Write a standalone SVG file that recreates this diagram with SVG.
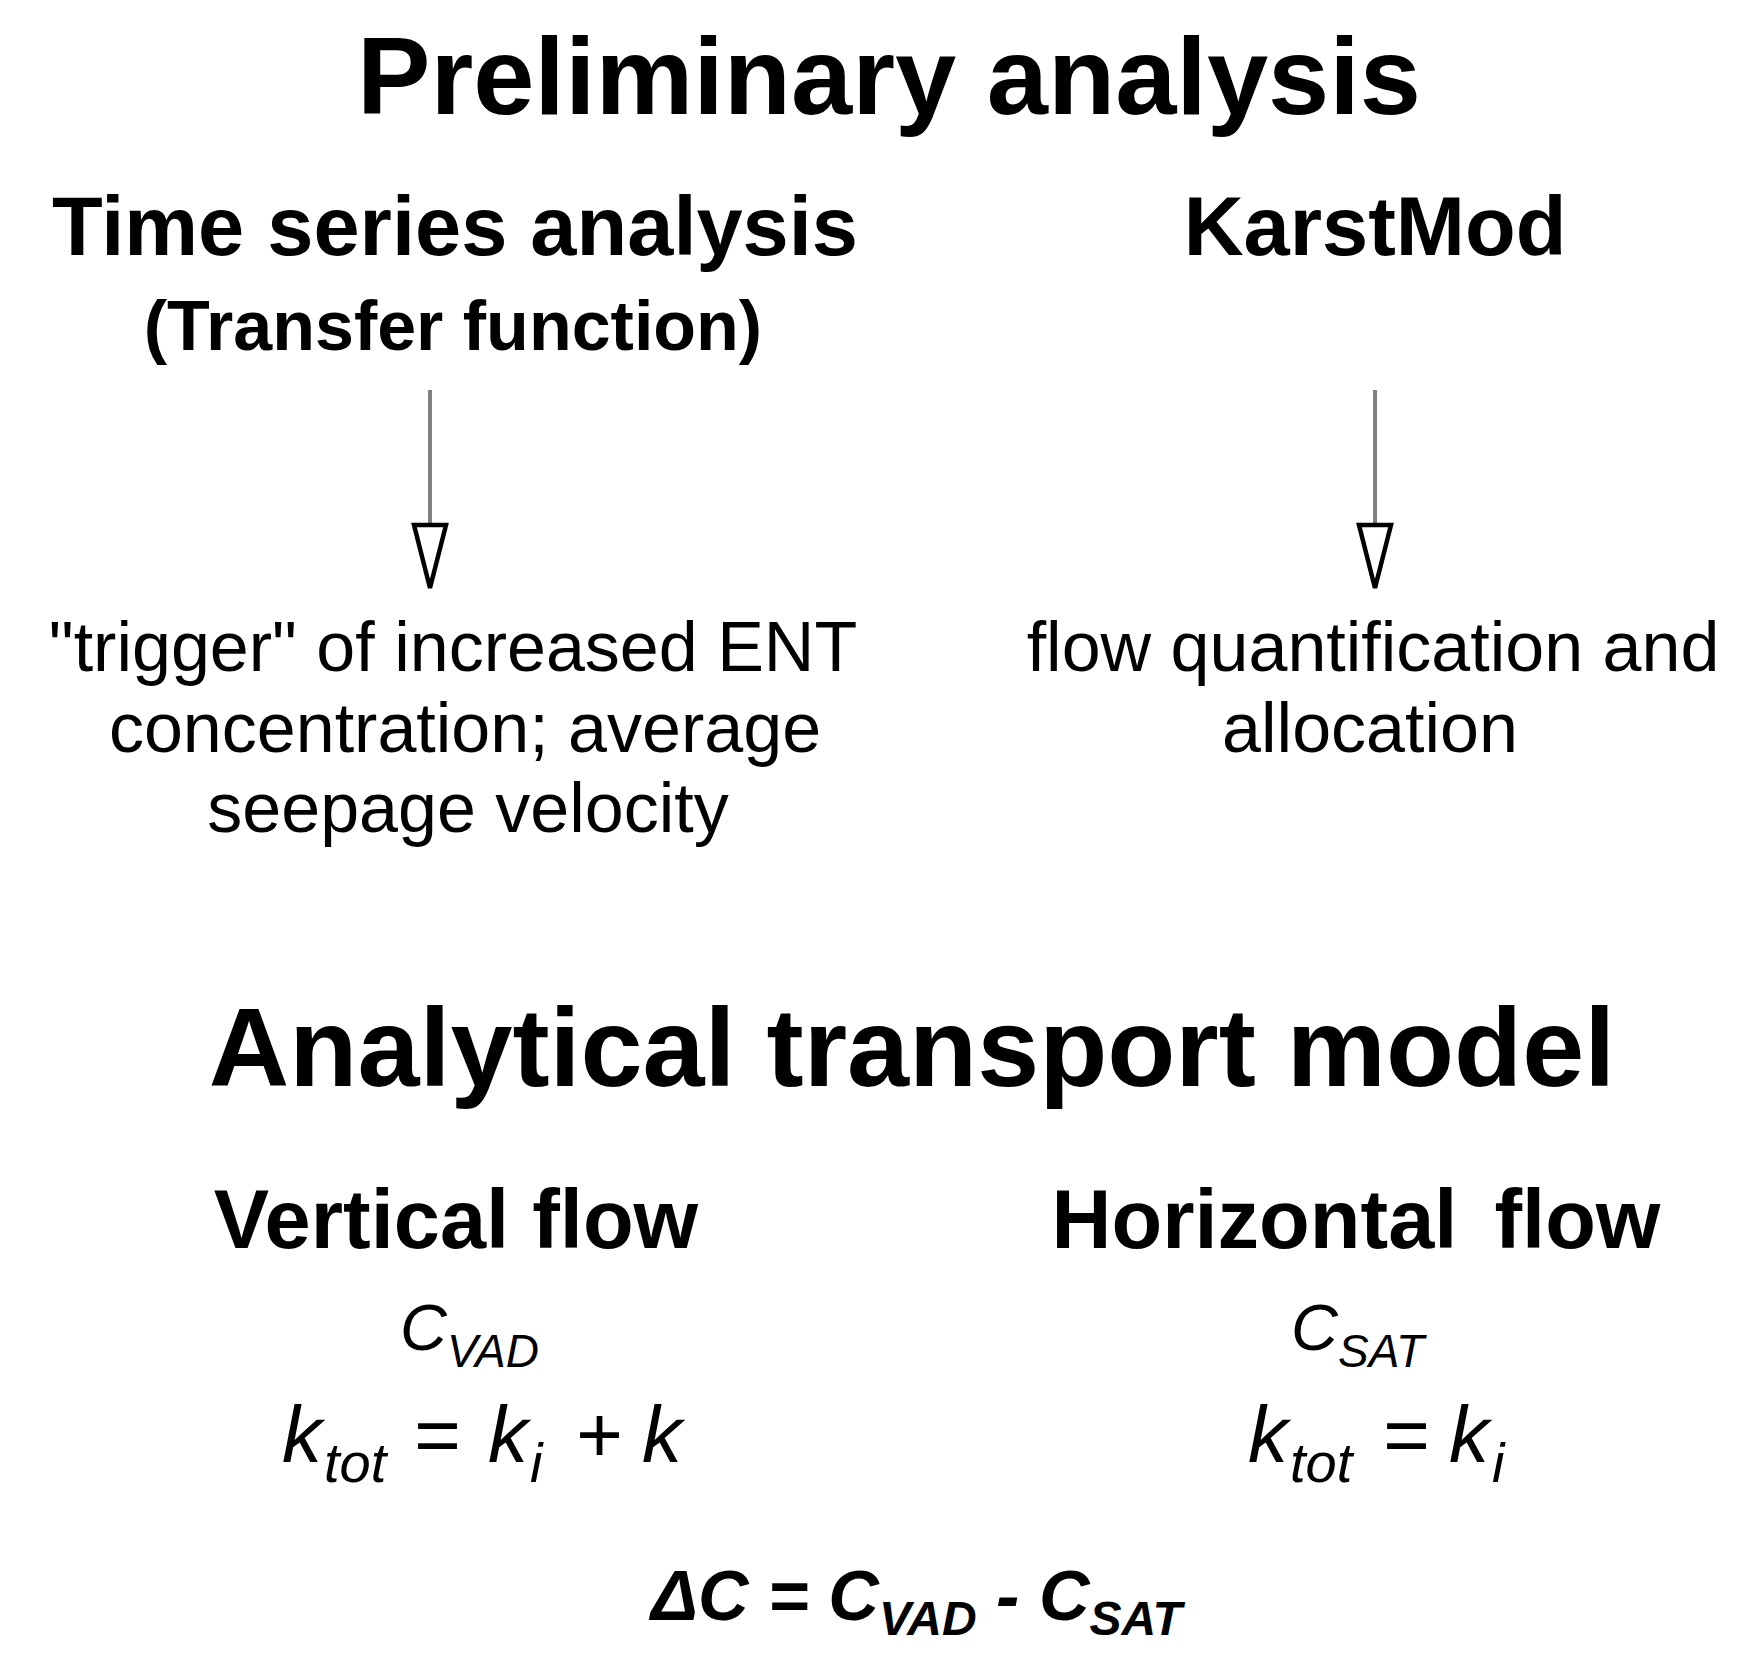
<svg xmlns="http://www.w3.org/2000/svg" width="1750" height="1666" viewBox="0 0 1750 1666">
<style>
text{font-family:"Liberation Sans",Arial,sans-serif;fill:#000}
.h1{font-weight:bold;font-size:110px;text-anchor:middle}
.h1b{font-weight:bold;font-size:111.5px;text-anchor:middle}
.h2{font-weight:bold;font-size:83px;text-anchor:middle}
.h3{font-weight:bold;font-size:70px;text-anchor:middle}
.body{font-size:70px;text-anchor:middle}
.m{font-style:italic;font-size:80px}
.ms{font-style:italic;font-size:56px}
.c{font-style:italic;font-size:65px}
.cs{font-style:italic;font-size:46px}
.d{font-style:italic;font-weight:bold;font-size:70px}
.ds{font-style:italic;font-weight:bold;font-size:48px}
.line{stroke:#808080;stroke-width:4;fill:none}
.head{fill:#fff;stroke:#000;stroke-width:4.5;stroke-linejoin:miter}
</style>
<rect width="1750" height="1666" fill="#fff"/>
<g id="title-preliminary"><text class="h1" x="889" y="114">Preliminary analysis</text></g>
<g id="node-timeseries">
<text class="h2" x="455" y="255">Time series analysis</text>
<text class="h3" x="453" y="350">(Transfer function)</text>
</g>
<g id="node-karstmod"><text class="h2" x="1375" y="255">KarstMod</text></g>
<g id="node-trigger">
<text class="body" x="453" y="671">"trigger" of increased ENT</text>
<text class="body" x="465" y="752">concentration; average</text>
<text class="body" x="468" y="832">seepage velocity</text>
</g>
<g id="node-flow">
<text class="body" x="1373" y="671">flow quantification and</text>
<text class="body" x="1370" y="752">allocation</text>
</g>
<g id="connectors">
<line class="line" x1="430" y1="390" x2="430" y2="524"/>
<path class="head" d="M414,525 L446,525 L430,588 Z"/>
<line class="line" x1="1375" y1="390" x2="1375" y2="524"/>
<path class="head" d="M1359,525 L1391,525 L1375,588 Z"/>
</g>
<g id="title-analytical"><text class="h1b" x="912" y="1086">Analytical transport model</text></g>
<g id="node-vertical">
<text class="h2" x="456" y="1248">Vertical flow</text>
<text y="1350"><tspan class="c" x="400">C</tspan><tspan class="cs" dy="17">VAD</tspan></text>
<text y="1462"><tspan class="m" x="282">k</tspan><tspan class="ms" x="324" dy="20">tot</tspan><tspan class="m" font-style="normal" x="413" dy="-20">=</tspan><tspan class="m" x="488">k</tspan><tspan class="ms" x="530" dy="20">i</tspan><tspan class="m" font-style="normal" x="575" dy="-20">+</tspan><tspan class="m" x="642">k</tspan></text>
</g>
<g id="node-horizontal">
<text class="h2" x="1356" y="1248" word-spacing="14">Horizontal flow</text>
<text y="1350"><tspan class="c" x="1291">C</tspan><tspan class="cs" dy="17">SAT</tspan></text>
<text y="1462"><tspan class="m" x="1248">k</tspan><tspan class="ms" x="1290" dy="20">tot</tspan><tspan class="m" font-style="normal" x="1382" dy="-20">=</tspan><tspan class="m" x="1449">k</tspan><tspan class="ms" x="1492" dy="20">i</tspan></text>
</g>
<g id="node-delta">
<text x="651" y="1620"><tspan class="d">ΔC = C</tspan><tspan class="ds" dy="15">VAD</tspan><tspan class="d" dy="-15"> - C</tspan><tspan class="ds" dy="15">SAT</tspan></text>
</g>
</svg>
